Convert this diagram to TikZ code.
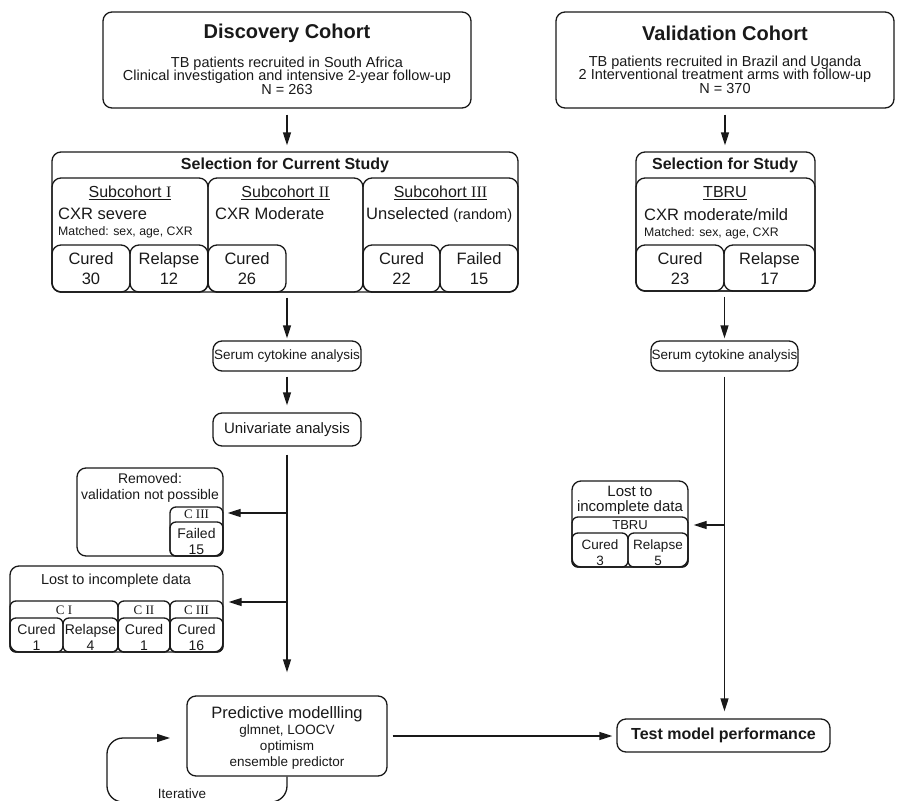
\documentclass[tikz,border=0pt]{standalone}
\usepackage{fontspec}
\setmainfont{Liberation Sans}
\newfontfamily\serifnum{Liberation Serif}
\usetikzlibrary{arrows.meta,fit}
\tikzset{
  rbox/.style={draw=black!90, line width=1.3pt, rounded corners=9pt, inner sep=0pt},
  sbox/.style={rbox, rounded corners=6pt},
  txt/.style={inner sep=0pt, align=center, text=black!90},
  arr/.style={draw=black!90, line width=1.3pt, -{Triangle[length=13pt,width=8pt]}},
  ln/.style={draw=black!90, line width=1.3pt},
  ftitle/.style={font=\bfseries\fontsize{20}{24}\selectfont},
  fbold/.style={font=\bfseries\fontsize{16}{19}\selectfont},
  fbody/.style={font=\fontsize{14.5}{17}\selectfont},
  fbig/.style={font=\fontsize{16.5}{20}\selectfont},
  fsmall/.style={font=\fontsize{12.3}{14}\selectfont},
  fmid/.style={font=\fontsize{14}{17}\selectfont},
}
\begin{document}
\begin{tikzpicture}[x=1pt,y=-1pt]
\useasboundingbox (0,0) rectangle (906,801);

% ---------- Discovery cohort ----------
\node[rbox, fit={(103,12)(471,108)}] (disc) {};
\node[txt, ftitle] (discT) at (287,33) {Discovery Cohort};
\node[txt, fbody] (discL1) at (287,64) {TB patients recruited in South Africa};
\node[txt, fbody] (discL2) at (287,77) {Clinical investigation and intensive 2-year follow-up};
\node[txt, fbody] (discL3) at (287,90) {N = 263};

% ---------- Validation cohort ----------
\node[rbox, fit={(556,12)(894,108)}] (val) {};
\node[txt, ftitle] (valT) at (725,33) {Validation Cohort};
\node[txt, fbody] (valL1) at (725,63) {TB patients recruited in Brazil and Uganda};
\node[txt, fbody] (valL2) at (725,76) {2 Interventional treatment arms with follow-up};
\node[txt, fbody] (valL3) at (725,89) {N = 370};

% ---------- Selection for current study ----------
\node[rbox, fit={(52,152)(518,292)}] (selA) {};
\node[txt, fbold] (selAT) at (285,165) {Selection for Current Study};
\node[rbox, fit={(52,178)(208,292)}] (s1) {};
\node[rbox, fit={(208,178)(363,292)}] (s2) {};
\node[rbox, fit={(363,178)(518,292)}] (s3) {};
\node[rbox, fit={(52,245)(130,292)}] (s1a) {};
\node[rbox, fit={(130,245)(208,292)}] (s1b) {};
\node[rbox, fit={(208,245)(286,292)}] (s2a) {};
\node[rbox, fit={(363,245)(440,292)}] (s3a) {};
\node[rbox, fit={(440,245)(518,292)}] (s3b) {};
\node[txt, font=\fontsize{16}{19}\selectfont] (s1T) at (130,193) {\underline{Subcohort {\serifnum I}}};
\node[txt, font=\fontsize{16}{19}\selectfont] (s2T) at (285.5,193) {\underline{Subcohort {\serifnum II}}};
\node[txt, font=\fontsize{16}{19}\selectfont] (s3T) at (440.5,193) {\underline{Subcohort {\serifnum III}}};
\node[txt, fbig, anchor=west] (s1L) at (58,214) {CXR severe};
\node[txt, fsmall, anchor=west] (s1M) at (58,232) {Matched: sex, age, CXR};
\node[txt, fbig, anchor=west] (s2L) at (215,214) {CXR Moderate};
\node[txt, fbig, anchor=west] (s3L) at (366,215) {Unselected {\fontsize{14.5}{17}\selectfont(random)}};
\node[txt, fbig] (s1aT) at (91,269) {Cured\\30};
\node[txt, fbig] (s1bT) at (169,269) {Relapse\\12};
\node[txt, fbig] (s2aT) at (247,269) {Cured\\26};
\node[txt, fbig] (s3aT) at (401.5,269) {Cured\\22};
\node[txt, fbig] (s3bT) at (479,269) {Failed\\15};

% ---------- Selection for study (validation) ----------
\node[rbox, fit={(636,152)(815,291)}] (selB) {};
\node[txt, fbold] (selBT) at (725,165) {Selection for Study};
\node[rbox, fit={(636,178)(815,291)}] (tb) {};
\node[rbox, fit={(636,245)(724,291)}] (tba) {};
\node[rbox, fit={(724,245)(815,291)}] (tbb) {};
\node[txt, font=\fontsize{16}{19}\selectfont] (tbT) at (725,193) {\underline{TBRU}};
\node[txt, fbig, anchor=west] (tbL) at (644,215) {CXR moderate/mild};
\node[txt, fsmall, anchor=west] (tbM) at (644,233) {Matched: sex, age, CXR};
\node[txt, fbig] (tbaT) at (680,269) {Cured\\23};
\node[txt, fbig] (tbbT) at (769.5,269) {Relapse\\17};

% ---------- analysis boxes ----------
\node[rbox, fit={(213,341)(361,371)}] (serA) {};
\node[txt, font=\fontsize{13.5}{16}\selectfont] (serAT) at (287,356) {Serum cytokine analysis};
\node[rbox, fit={(651,341)(798,371)}] (serB) {};
\node[txt, font=\fontsize{13.5}{16}\selectfont] (serBT) at (724.5,356) {Serum cytokine analysis};
\node[rbox, fit={(213,413)(361,446)}] (uni) {};
\node[txt, font=\fontsize{15}{18}\selectfont] (uniT) at (287,429.5) {Univariate analysis};

% ---------- removed box ----------
\node[rbox, fit={(77,468)(223,556)}] (rem) {};
\node[txt, fmid] (remT1) at (150,478) {Removed:};
\node[txt, fmid] (remT2) at (150,496) {validation not possible};
\node[sbox, fit={(170,507)(223,556)}] (remC) {};
\node[sbox, fit={(170,522)(223,556)}] (remF) {};
\node[txt, font=\serifnum\fontsize{13}{15}\selectfont] (remCT) at (196.5,514.5) {C III};
\node[txt, fmid] (remFT) at (196.5,541) {Failed\\[-1pt]15};

% ---------- lost (discovery) ----------
\node[rbox, fit={(10,566)(223,652)}] (lostA) {};
\node[txt, fbody] (lostAT) at (116,581) {Lost to incomplete data};
\node[sbox, fit={(10,601)(118,652)}] (lc1) {};
\node[sbox, fit={(118,601)(170,652)}] (lc2) {};
\node[sbox, fit={(170,601)(223,652)}] (lc3) {};
\node[txt, font=\serifnum\fontsize{13}{15}\selectfont] (lc1T) at (64,610) {C I};
\node[txt, font=\serifnum\fontsize{13}{15}\selectfont] (lc2T) at (144,610) {C II};
\node[txt, font=\serifnum\fontsize{13}{15}\selectfont] (lc3T) at (196.5,610) {C III};
\node[sbox, fit={(10,618)(63,652)}] (la1) {};
\node[sbox, fit={(63,618)(118,652)}] (la2) {};
\node[sbox, fit={(118,618)(170,652)}] (la3) {};
\node[sbox, fit={(170,618)(223,652)}] (la4) {};
\node[txt, fmid] (la1T) at (36.5,637.5) {Cured\\[-1pt]1};
\node[txt, fmid] (la2T) at (90.5,637.5) {Relapse\\[-1pt]4};
\node[txt, fmid] (la3T) at (144,637.5) {Cured\\[-1pt]1};
\node[txt, fmid] (la4T) at (196.5,637.5) {Cured\\[-1pt]16};

% ---------- lost (validation) ----------
\node[rbox, fit={(572,481)(688,567)}] (lostB) {};
\node[txt, font=\fontsize{15}{18}\selectfont] (lostBT1) at (630,491) {Lost to};
\node[txt, font=\fontsize{15}{18}\selectfont] (lostBT2) at (630,508) {incomplete data};
\node[sbox, fit={(572,517)(688,567)}] (lbt) {};
\node[txt, font=\fontsize{13}{15}\selectfont] (lbtT) at (630,525.5) {TBRU};
\node[sbox, fit={(572,533)(628,567)}] (lb1) {};
\node[sbox, fit={(628,533)(688,567)}] (lb2) {};
\node[txt, font=\fontsize{13.5}{16}\selectfont] (lb1T) at (600,553) {Cured\\3};
\node[txt, font=\fontsize{13.5}{16}\selectfont] (lb2T) at (658,553) {Relapse\\5};

% ---------- predictive / test ----------
\node[rbox, fit={(187,696)(387,776)}] (pred) {};
\node[txt, fbold, font=\fontsize{16.5}{20}\selectfont] (predT) at (287,714) {Predictive modellling};
\node[txt, font=\fontsize{13.5}{16}\selectfont] (predL1) at (287,731) {glmnet, LOOCV};
\node[txt, font=\fontsize{13.5}{16}\selectfont] (predL2) at (287,747) {optimism};
\node[txt, font=\fontsize{13.5}{16}\selectfont] (predL3) at (287,763) {ensemble predictor};
\node[rbox, fit={(617,719)(830,752)}] (test) {};
\node[txt, fbold] (testT) at (723.5,735.5) {Test model performance};
\node[txt, font=\fontsize{13.5}{16}\selectfont] (iterT) at (182,794) {Iterative};

% ---------- connectors ----------
\coordinate (bRem) at (287,513);
\coordinate (bLostA) at (287,602);
\coordinate (bLostB) at (724.5,525);
\coordinate (itA) at (107,802);
\coordinate (itB) at (170,738);

\draw[arr, shorten <=6pt, shorten >=6pt] (disc.south) -- (disc.south |- selA.north);
\draw[arr, shorten <=6pt, shorten >=6pt] (val.south) -- (val.south |- selB.north);
\draw[arr, shorten <=5pt, shorten >=2pt] (selA.south -| serA.north) -- (serA.north);
\draw[arr, shorten <=5pt, shorten >=2pt] (selB.south -| serB.north) -- (serB.north);
\draw[arr, shorten <=5pt, shorten >=7pt] (serA.south) -- (uni.north);
\draw[arr, shorten <=8pt, shorten >=23pt] (uni.south) -- (pred.north);
\draw[arr, shorten <=5pt, shorten >=7pt] (serB.south) -- (serB.south |- test.north);
\draw[arr, shorten >=4pt] (bRem) -- (bRem -| rem.east);
\draw[arr, shorten >=5pt] (bLostA) -- (bLostA -| lostA.east);
\draw[arr, shorten >=5pt] (bLostB) -- (bLostB -| lostB.east);
\draw[arr, shorten <=5pt, shorten >=4pt] (pred.east) -- (pred.east -| test.west);
\draw[arr, rounded corners=16pt] (pred.south) |- (itA) |- (itB);
\end{tikzpicture}
\end{document}
